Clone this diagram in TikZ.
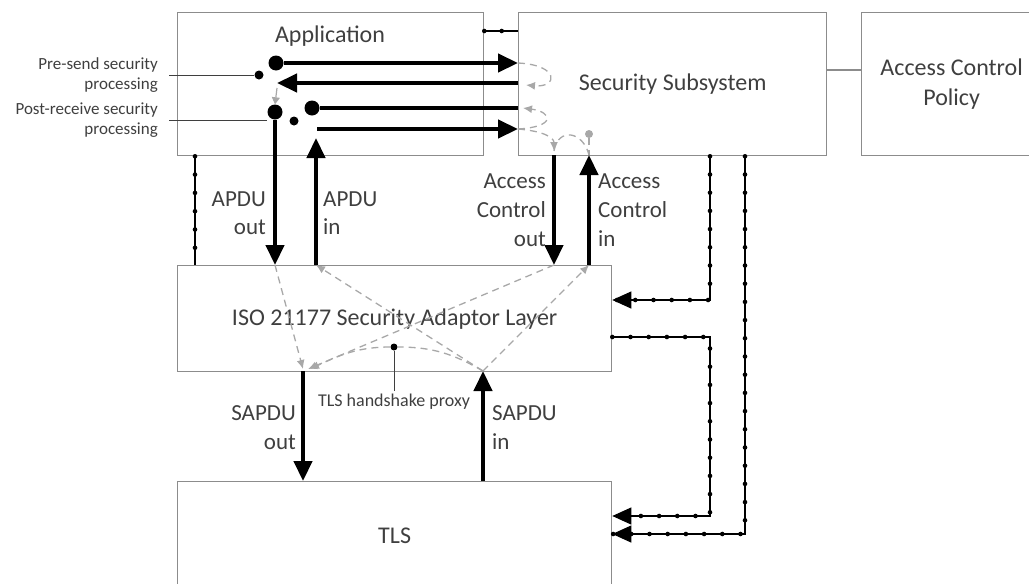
\documentclass[tikz,border=0pt]{standalone}
\usepackage{fontspec}
\setmainfont{Carlito}
\usetikzlibrary{arrows.meta,decorations.markings}
\definecolor{boxgray}{HTML}{8C8C8C}
\definecolor{txtgray}{HTML}{3F3F3F}
\definecolor{dashgray}{HTML}{A8A8A8}
\tikzset{
    block/.style={draw=boxgray, line width=1.3pt, inner sep=0pt, anchor=north west,
        font={\fontsize{24}{30}\selectfont}, align=center},
    bigarrow/.style={line width=4.5pt, -{Triangle[length=20pt,width=18pt]}},
    bigline/.style={line width=4.5pt},
    bigdot/.style={circle, fill=black, inner sep=0pt, minimum size=15pt},
    smalldot/.style={circle, fill=black, inner sep=0pt, minimum size=9pt},
    graydash/.style={dashgray, line width=1.3pt, dash pattern=on 7pt off 5pt},
    grayarrow/.style={graydash, -{Latex[length=9pt,width=8pt]}},
    leader/.style={txtgray, line width=0.9pt},
    dotline/.style={line width=1.1pt, decoration={markings,
        mark=between positions 0 and 1 step #1 with {\fill (0,0) circle (2.3pt);}},
        postaction={decorate}},
    dotarrow/.style={-{Triangle[length=19pt,width=17pt]}},
    biglabel/.style={font={\fontsize{23}{28}\selectfont}, inner sep=0pt},
    sidelabel/.style={font={\fontsize{17}{20}\selectfont}, inner sep=0pt, align=right, anchor=east}
}
\begin{document}
\begin{tikzpicture}[x=1pt, y=-1pt, every node/.style={text=txtgray}]
    \useasboundingbox (0,0) rectangle (1029,584);

    \node[block, minimum width=306pt, minimum height=143pt] (app) at (177,12) {};
    \node[biglabel, font={\fontsize{24}{30}\selectfont}] (apptxt) at (330,36) {Application};
    \node[block, minimum width=308pt, minimum height=143pt] (ss) at (518,12) {Security Subsystem};
    \node[block, minimum width=180pt, minimum height=143pt] (acp) at (861,12) {Access Control\\Policy};
    \node[block, minimum width=434pt, minimum height=106pt] (iso) at (177,265) {ISO 21177 Security Adaptor Layer};
    \node[block, minimum width=434pt, minimum height=109pt] (tls) at (177,481) {TLS};
    \coordinate (policylink) at (840,70);
    \draw[boxgray, line width=1.3pt] (policylink -| ss.east) -- (policylink -| acp.west);

    \node[bigdot] (presend) at (276,63) {};
    \node[smalldot] (presendsw) at (259,75) {};
    \node[bigdot] (apduout) at (275,112) {};
    \node[smalldot] (postrecvsw) at (294,121) {};
    \node[bigdot] (postrecv) at (312,108) {};
    \coordinate (ret) at (277,83);
    \coordinate (apdutop) at (317,129);
    \coordinate (apduin) at (316,138);
    \coordinate (acout) at (554,155);
    \coordinate (acin) at (589,155);
    \coordinate (sapduout) at (303,371);
    \coordinate (sapduin) at (483,371);

    \node[sidelabel] (prelbl) at (158,75) {Pre-send security\\processing};
    \node[sidelabel] (postlbl) at (158,120) {Post-receive security\\processing};
    \draw[leader] ([xshift=11pt]prelbl.east) -- (presendsw);
    \draw[leader] ([xshift=11pt]postlbl.east) -- (postlbl.east -| apduout.west);

    \draw[bigarrow] (presend) -- (presend -| ss.west);
    \draw[bigarrow] (ret -| ss.west) -- (ret);
    \draw[bigline] (postrecv) -- (postrecv -| ss.west);
    \draw[bigarrow] (apdutop) -- (apdutop -| ss.west);
    \draw[dashgray, line width=1.2pt, -{Triangle[length=7pt,width=8pt]}] ([yshift=-5pt]ret) -- (apduout.north);

    \draw[bigarrow] (apduout) -- (apduout |- iso.north);
    \draw[bigarrow] (apduin |- iso.north) -- (apduin);
    \draw[bigarrow] (acout) -- (acout |- iso.north);
    \draw[bigarrow] (acin |- iso.north) -- (acin);
    \draw[bigarrow] (sapduout) -- (sapduout |- tls.north);
    \draw[bigarrow] (sapduin |- tls.north) -- (sapduin);

    \node[biglabel, align=right, anchor=east] (apduoutlbl) at (266,213) {APDU\\out};
    \node[biglabel, align=left, anchor=west] (apduinlbl) at (323,213) {APDU\\in};
    \node[biglabel, align=right, anchor=east, font={\fontsize{23}{29}\selectfont}] (acoutlbl) at (546,210) {Access\\Control\\out};
    \node[biglabel, align=left, anchor=west, font={\fontsize{23}{29}\selectfont}] (acinlbl) at (598,210) {Access\\Control\\in};
    \node[biglabel, align=right, anchor=east, font={\fontsize{23}{29}\selectfont}] (sapduoutlbl) at (296,428) {SAPDU\\out};
    \node[biglabel, align=left, anchor=west, font={\fontsize{23}{29}\selectfont}] (sapduinlbl) at (492,428) {SAPDU\\in};

    \draw[grayarrow] (presend -| ss.west) .. controls +(42,2) and +(32,3) .. ([xshift=8pt,yshift=-2pt]ret -| ss.west);
    \draw[grayarrow] (apdutop -| ss.west) .. controls +(38,-2) and +(30,4) .. ([xshift=5pt]postrecv -| ss.west);
    \draw[grayarrow] (apdutop -| ss.west) .. controls +(24,2) and +(0,-14) .. ([yshift=4pt]acout);
    \node[circle, fill=dashgray, inner sep=0pt, minimum size=8pt] (acsw) at (589,134) {};
    \draw[graydash] ([yshift=4pt]acout) .. controls +(4,-24) and +(-6,-24) .. (acin);
    \draw[graydash] (acsw) -- (acin);

    \draw[grayarrow] (apduout |- iso.north) -- ([yshift=2pt]sapduout);
    \draw[grayarrow] (acout |- iso.north) -- ([xshift=5pt,yshift=2pt]sapduout);
    \draw[grayarrow] (sapduin) -- (apduin |- iso.north);
    \draw[grayarrow] (sapduin) -- (acin |- iso.north);
    \node[circle, fill=black, inner sep=0pt, minimum size=7pt] (proxy) at (394,347) {};
    \draw[grayarrow] (sapduin) to[out=150, in=0] (proxy) to[out=180, in=25] ([xshift=7pt,yshift=2pt]sapduout);
    \node[inner sep=0pt, font={\fontsize{18}{21}\selectfont}] (proxylbl) at (394,402) {TLS handshake proxy};
    \draw[leader] (proxy) -- ([yshift=3pt]proxylbl.north);

    \coordinate (link) at (500,31);
    \coordinate (leftlink) at (195,0);
    \coordinate (bus1) at (710,0);
    \coordinate (bus2) at (745,0);
    \coordinate (isoin) at (0,300);
    \coordinate (isoout) at (0,337);
    \coordinate (tlsin1) at (0,516);
    \coordinate (tlsin2) at (0,534);
    \draw[dotline=17.4pt] (link -| app.east) -- (link -| ss.west);
    \draw[dotline=18.3pt] (leftlink |- app.south) -- ([yshift=8pt]leftlink |- iso.north);
    \draw[line width=1.1pt] ([yshift=8pt]leftlink |- iso.north) -- (leftlink |- iso.north);
    \draw[dotline=18.2pt, dotarrow] (bus1 |- ss.south) -- (bus1 |- isoin) -- (isoin -| iso.east);
    \draw[dotline=18.2pt, dotarrow] (isoout -| iso.east) -- (bus1 |- isoout) -- (bus1 |- tlsin1) -- (tlsin1 -| tls.east);
    \draw[dotline=18.2pt, dotarrow] (bus2 |- ss.south) -- (bus2 |- tlsin2) -- (tlsin2 -| tls.east);
\end{tikzpicture}
\end{document}
